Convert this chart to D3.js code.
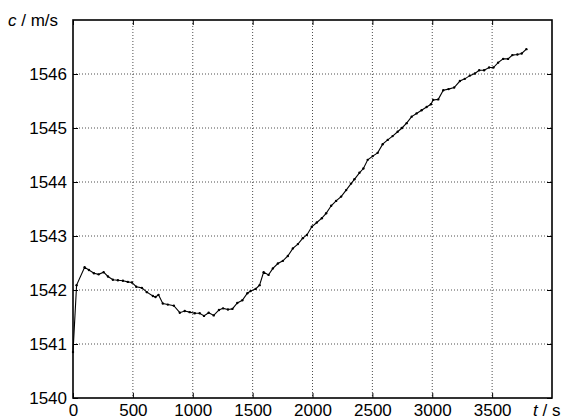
<!DOCTYPE html>
<html>
<head>
<meta charset="utf-8">
<script src="https://cdn.jsdelivr.net/npm/d3@7"></script>
<style>
  body { margin: 0; background: #fff; }
  text { font-family: "Liberation Sans", Arial, sans-serif; }
</style>
</head>
<body>
<div id="chart"></div>
<script>
// time in s, sound speed in m/s
const times = [0, 30, 97, 133, 175, 214, 256, 292, 333, 375, 417, 458, 492, 528, 575, 617, 667, 689, 714,
  750, 792, 842, 892, 933, 975, 1017, 1058, 1094, 1133, 1175, 1219, 1253, 1294, 1331, 1372, 1414, 1456,
  1483, 1525, 1558, 1592, 1633, 1669, 1711, 1753, 1794, 1836, 1878, 1919, 1953, 1994, 2036, 2078, 2114,
  2156, 2197, 2239, 2281, 2322, 2350, 2392, 2425, 2461, 2503, 2544, 2586, 2628, 2669, 2711, 2747, 2786,
  2828, 2869, 2911, 2953, 2989, 3008, 3050, 3092, 3136, 3183, 3231, 3272, 3314, 3356, 3392, 3433, 3475,
  3511, 3550, 3592, 3633, 3669, 3711, 3747, 3786];
const speeds = [1540.85, 1542.09, 1542.42, 1542.37, 1542.31, 1542.29, 1542.33, 1542.25, 1542.19, 1542.18,
  1542.17, 1542.15, 1542.14, 1542.06, 1542.04, 1541.96, 1541.89, 1541.87, 1541.91,
  1541.75, 1541.73, 1541.71, 1541.58, 1541.61, 1541.59, 1541.57, 1541.57, 1541.52, 1541.58, 1541.53,
  1541.63, 1541.66, 1541.64, 1541.65, 1541.76, 1541.81, 1541.94, 1541.98, 1542.02, 1542.09, 1542.33,
  1542.28, 1542.40, 1542.49, 1542.54, 1542.63, 1542.77, 1542.85, 1542.96, 1543.02, 1543.17, 1543.25,
  1543.33, 1543.42, 1543.56, 1543.65, 1543.73, 1543.85, 1543.97, 1544.05, 1544.17, 1544.25, 1544.41,
  1544.48, 1544.54, 1544.70, 1544.78, 1544.85, 1544.93, 1545.00, 1545.09, 1545.21, 1545.27, 1545.33,
  1545.39, 1545.44, 1545.52, 1545.53, 1545.70, 1545.72, 1545.75, 1545.87, 1545.91, 1545.97, 1546.01,
  1546.07, 1546.07, 1546.12, 1546.12, 1546.21, 1546.28, 1546.28, 1546.35, 1546.36, 1546.38, 1546.46];
const xTicks = [0, 500, 1000, 1500, 2000, 2500, 3000, 3500];
const yTicks = [1540, 1541, 1542, 1543, 1544, 1545, 1546];
const xLabel = "t";
const xUnit = " / s";
const yLabel = "c";
const yUnit = " / m/s";

const W = 562, H = 419;
const mLeft = 73, mRight = 552, mTop = 20, mBottom = 398;

const data = times.map((t, i) => ({ t: t, c: speeds[i] }));

const x = d3.scaleLinear().domain([0, 4000]).range([mLeft, mRight]);
const y = d3.scaleLinear().domain([1540, 1547]).range([mBottom, mTop]);

const svg = d3.select("#chart").append("svg")
  .attr("width", W)
  .attr("height", H);

// dotted grid
svg.append("g").selectAll("line")
  .data(xTicks.slice(1))
  .join("line")
  .attr("x1", d => x(d)).attr("x2", d => x(d))
  .attr("y1", mTop).attr("y2", mBottom)
  .attr("stroke", "#222").attr("stroke-width", 0.8)
  .attr("stroke-dasharray", "1,2");
svg.append("g").selectAll("line")
  .data(yTicks.slice(1))
  .join("line")
  .attr("x1", mLeft).attr("x2", mRight)
  .attr("y1", d => y(d)).attr("y2", d => y(d))
  .attr("stroke", "#222").attr("stroke-width", 0.8)
  .attr("stroke-dasharray", "1,2");

// axes with inward ticks
const axB = svg.append("g").attr("transform", `translate(0,${mBottom})`)
  .call(d3.axisBottom(x).tickValues(xTicks).tickSize(-5).tickPadding(6).tickFormat(d3.format("d")));
const axL = svg.append("g").attr("transform", `translate(${mLeft},0)`)
  .call(d3.axisLeft(y).tickValues(yTicks).tickSize(-5).tickPadding(6).tickFormat(d3.format("d")));
const axT = svg.append("g").attr("transform", `translate(0,${mTop})`)
  .call(d3.axisTop(x).tickValues(xTicks).tickSize(-5).tickFormat(""));
const axR = svg.append("g").attr("transform", `translate(${mRight},0)`)
  .call(d3.axisRight(y).tickValues(yTicks).tickSize(-5).tickFormat(""));

[axB, axL, axT, axR].forEach(a => {
  a.select(".domain").remove();
  a.selectAll(".tick line").attr("stroke", "#000").attr("stroke-width", 1);
  a.selectAll("text").attr("fill", "#000").style("font-size", "17px")
    .style("font-family", "'Liberation Sans', Arial, sans-serif");
});
axB.selectAll("text").attr("dy", "0.71em");

// frame
svg.append("rect")
  .attr("x", mLeft).attr("y", mTop)
  .attr("width", mRight - mLeft).attr("height", mBottom - mTop)
  .attr("fill", "none").attr("stroke", "#000").attr("stroke-width", 1.6);

// data line with small markers
const line = d3.line().x(d => x(d.t)).y(d => y(d.c));
svg.append("path")
  .datum(data)
  .attr("d", line)
  .attr("fill", "none")
  .attr("stroke", "#000")
  .attr("stroke-width", 1.1);
svg.append("g").selectAll("circle")
  .data(data)
  .join("circle")
  .attr("cx", d => x(d.t))
  .attr("cy", d => y(d.c))
  .attr("r", 1.2)
  .attr("fill", "#000");

// axis labels in place of the last ticks
const yl = svg.append("text")
  .attr("x", 8).attr("y", 26)
  .style("font-size", "17px");
yl.append("tspan").style("font-style", "italic").text(yLabel);
yl.append("tspan").text(yUnit);

const xl = svg.append("text")
  .attr("x", 533).attr("y", 416)
  .style("font-size", "17px");
xl.append("tspan").style("font-style", "italic").text(xLabel);
xl.append("tspan").text(xUnit);
</script>
</body>
</html>
